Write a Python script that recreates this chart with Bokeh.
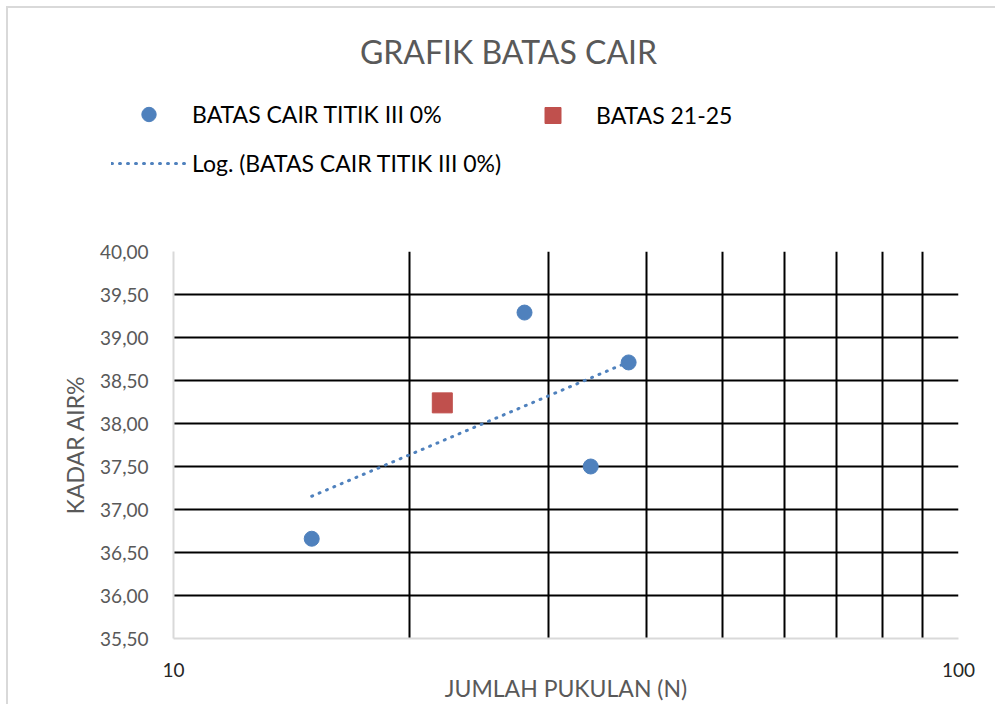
import numpy as np
from bokeh.plotting import figure
from bokeh.layouts import column
from bokeh.models import (Range1d, FixedTicker, Legend, LegendItem, Label,
                          CustomJSTickFormatter)
from bokeh.embed import file_html
from bokeh.resources import INLINE

# ---- data ----
n_blows = [15, 28, 34, 38]
water_content = [36.66, 39.29, 37.50, 38.71]
limit_blows = [22]
limit_water = [38.24]
y_ticks = [35.5, 36.0, 36.5, 37.0, 37.5, 38.0, 38.5, 39.0, 39.5, 40.0]
x_ticks = [10, 100]
x_grid = [20, 30, 40, 50, 60, 70, 80, 90, 100]
y_grid = [36.0, 36.5, 37.0, 37.5, 38.0, 38.5, 39.0, 39.5, 40.0]

# log trendline (fitted on all plotted points)
fit_x = np.array(n_blows + limit_blows, dtype=float)
fit_y = np.array(water_content + limit_water, dtype=float)
slope, intercept = np.polyfit(np.log(fit_x), fit_y, 1)
tx = np.array([min(n_blows), max(n_blows)], dtype=float)
ty = slope * np.log(tx) + intercept

FONT = "Lato"
GRAY = "#595959"
BLUE = "#4F81BD"
RED = "#C0504D"
OFF = 8          # content offset (6px margin + 2px border)
W = 1001 - OFF - 6
HEAD = 226 - OFF
H = 704 - OFF

# ---------- header (title + legend) ----------
hd = figure(width=W, height=HEAD, x_range=Range1d(0, W), y_range=Range1d(HEAD, 0),
            output_backend="svg", toolbar_location=None,
            min_border=0, min_border_left=0, min_border_right=0,
            min_border_top=0, min_border_bottom=0)
hd.frame_align = False
hd.axis.visible = False
hd.grid.visible = False
hd.outline_line_color = None
hd.background_fill_color = "white"
hd.border_fill_color = "white"

hd.add_layout(Label(x=508 - OFF, y=51 - OFF, text="GRAFIK BATAS CAIR", text_font=FONT,
                    text_font_size="32px", text_color=GRAY,
                    text_align="center", text_baseline="middle"))

nan_src = dict(x=[np.nan], y=[np.nan])
d_pts = hd.scatter(x="x", y="y", source=dict(nan_src), marker="circle",
                   fill_color=BLUE, line_color=BLUE)
d_trend = hd.line(x="x", y="y", source=dict(nan_src), line_color=BLUE, line_width=3,
                  line_dash="1 7", line_cap="round")
d_sq = hd.scatter(x="x", y="y", source=dict(nan_src), marker="square",
                  fill_color=RED, line_color=RED)

legA = Legend(items=[LegendItem(label="BATAS CAIR TITIK III 0%", renderers=[d_pts]),
                     LegendItem(label="Log. (BATAS CAIR TITIK III 0%)", renderers=[d_trend])],
              location=(111 - OFF, HEAD - (181 - OFF)))
legA.glyph_height = 36
legA.label_height = 36
legA.spacing = 13
legB = Legend(items=[LegendItem(label="BATAS 21-25", renderers=[d_sq])],
              location=(515 - OFF, HEAD - (135 - OFF)))
legB.glyph_height = 40
legB.label_height = 40
for lg in (legA, legB):
    lg.label_text_font = FONT
    lg.label_text_font_size = "23px"
    lg.label_text_color = "black"
    lg.glyph_width = 75
    lg.label_standoff = 6
    lg.padding = 0
    lg.margin = 0
    lg.border_line_color = None
    lg.background_fill_alpha = 0
    hd.add_layout(lg, "center")

# ---------- main chart ----------
p = figure(width=W, height=H - HEAD, x_axis_type="log",
           x_range=Range1d(10, 100), y_range=Range1d(35.5, 40),
           output_backend="svg", toolbar_location=None,
           min_border_left=173 - OFF, min_border_right=W - (958 - OFF),
           min_border_top=251 - 226, min_border_bottom=704 - 640)
p.frame_align = False
p.outline_line_color = None
p.background_fill_color = "white"
p.border_fill_color = "white"

p.xgrid.ticker = FixedTicker(ticks=x_grid)
p.ygrid.ticker = FixedTicker(ticks=y_grid)
for g in (p.xgrid, p.ygrid):
    g.grid_line_color = "black"
    g.grid_line_width = 2
    g.grid_line_alpha = 1.0

p.xaxis.ticker = FixedTicker(ticks=x_ticks)
p.yaxis.ticker = FixedTicker(ticks=y_ticks)
p.yaxis.formatter = CustomJSTickFormatter(code="return tick.toFixed(2).replace('.', ',');")
p.xaxis.formatter = CustomJSTickFormatter(code="return tick.toFixed(0);")
for ax in (p.xaxis, p.yaxis):
    ax.axis_line_color = "#D9D9D9"
    ax.axis_line_width = 2
    ax.major_tick_line_color = None
    ax.minor_tick_line_color = None
    ax.major_label_text_font = FONT
    ax.major_label_text_font_size = "19px"
    ax.axis_label_text_font = FONT
    ax.axis_label_text_font_size = "23px"
    ax.axis_label_text_font_style = "normal"
    ax.axis_label_text_color = GRAY
p.yaxis.major_label_text_color = GRAY
p.xaxis.major_label_text_color = "#262626"
p.yaxis.major_label_standoff = 19
p.xaxis.major_label_standoff = 18
p.yaxis.axis_label = "KADAR AIR%"
p.yaxis.axis_label_standoff = 8
p.xaxis.axis_label = "JUMLAH PUKULAN (N)"
p.xaxis.axis_label_standoff = -6

trend = p.line(tx, ty, line_color=BLUE, line_width=3, line_dash="1 7",
               line_cap="round")
pts = p.scatter(n_blows, water_content, size=15, marker="circle",
                fill_color=BLUE, line_color=BLUE)
sq = p.scatter(limit_blows, limit_water, size=20, marker="square",
               fill_color=RED, line_color=RED)

layout = column(hd, p, spacing=0, margin=(6, 0, 0, 6),
                styles={"border-left": "2px solid #D9D9D9",
                        "border-top": "2px solid #D9D9D9"})
open("out.html", "w").write(file_html(layout, INLINE))
